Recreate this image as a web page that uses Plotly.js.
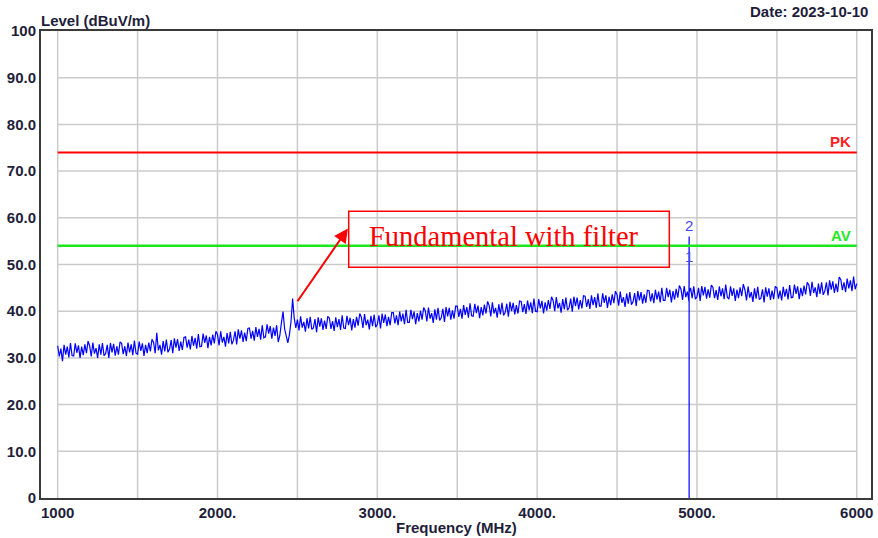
<!DOCTYPE html>
<html>
<head>
<meta charset="utf-8">
<script src="https://cdn.plot.ly/plotly-3.0.1.min.js"></script>
<style>
  html, body { margin: 0; padding: 0; background: #ffffff; }
  #chart { width: 878px; height: 538px; }
</style>
</head>
<body>
<div id="chart"></div>
<script>
// Radiated emission scan, 1 GHz - 6 GHz (sweep sampled every 10 MHz)
const startFreq = 1000;
const stepFreq = 10;
const level = [
  32.6, 30.3, 32.0, 29.3, 32.8, 30.7, 32.4, 30.1, 33.2, 30.5,
  30.4, 33.1, 31.1, 32.7, 30.0, 32.4, 30.6, 32.9, 31.0, 33.6,
  32.6, 30.3, 33.3, 30.9, 32.1, 30.0, 32.9, 30.7, 33.2, 30.5,
  30.9, 32.8, 30.0, 33.2, 31.2, 33.0, 30.5, 32.5, 30.7, 33.4,
  33.1, 30.8, 32.5, 30.4, 33.3, 31.2, 32.9, 30.6, 33.7, 31.0,
  30.8, 33.5, 31.5, 33.1, 30.4, 32.8, 31.0, 33.3, 31.4, 34.0,
  33.3, 31.0, 35.4, 31.6, 32.8, 30.7, 33.6, 31.4, 33.9, 31.2,
  31.9, 33.8, 31.0, 34.2, 32.2, 34.0, 31.5, 33.5, 31.7, 34.4,
  34.5, 32.2, 33.9, 31.8, 34.7, 32.6, 34.3, 32.0, 35.1, 32.4,
  32.5, 35.2, 33.2, 34.8, 32.1, 34.5, 32.7, 35.0, 33.1, 35.7,
  35.0, 32.7, 35.7, 33.3, 34.5, 32.4, 35.3, 33.1, 35.6, 32.9,
  33.8, 35.7, 32.9, 36.1, 34.1, 35.9, 33.4, 35.4, 33.6, 36.3,
  36.4, 34.1, 35.8, 33.7, 36.6, 34.5, 36.2, 33.9, 37.0, 34.3,
  34.5, 37.2, 35.2, 36.8, 34.1, 36.5, 34.7, 37.0, 33.4, 34.8,
  37.5, 39.9, 36.2, 34.5, 33.2, 35.0, 37.8, 42.7, 38.5, 36.4,
  38.2, 35.9, 38.9, 36.5, 37.7, 35.6, 38.5, 36.3, 38.8, 36.1,
  36.4, 38.3, 35.5, 38.7, 36.7, 38.5, 36.0, 38.0, 36.2, 38.9,
  38.5, 36.2, 37.9, 35.8, 38.7, 36.6, 38.3, 36.0, 39.1, 36.4,
  36.3, 39.0, 37.0, 38.6, 35.9, 38.3, 36.5, 38.8, 36.9, 39.5,
  38.7, 36.4, 39.4, 37.0, 38.2, 36.1, 39.0, 36.8, 39.3, 36.6,
  37.2, 39.1, 36.3, 39.5, 37.5, 39.3, 36.8, 38.8, 37.0, 39.7,
  39.7, 37.4, 39.1, 37.0, 39.9, 37.8, 39.5, 37.2, 40.3, 37.6,
  37.6, 40.3, 38.3, 39.9, 37.2, 39.6, 37.8, 40.1, 38.2, 40.8,
  40.1, 37.8, 40.8, 38.4, 39.6, 37.5, 40.4, 38.2, 40.7, 38.0,
  38.6, 40.5, 37.7, 40.9, 38.9, 40.7, 38.2, 40.2, 38.4, 41.1,
  41.1, 38.8, 40.5, 38.4, 41.3, 39.2, 40.9, 38.6, 41.7, 39.0,
  38.9, 41.6, 39.6, 41.2, 38.5, 40.9, 39.1, 41.4, 39.5, 42.1,
  41.2, 38.9, 41.9, 39.5, 40.7, 38.6, 41.5, 39.3, 41.8, 39.1,
  39.7, 41.6, 38.8, 42.0, 40.0, 41.8, 39.3, 41.3, 39.5, 42.2,
  42.1, 39.8, 41.5, 39.4, 42.3, 40.2, 41.9, 39.6, 42.7, 40.0,
  39.9, 42.6, 40.6, 42.2, 39.5, 41.9, 40.1, 42.4, 40.5, 43.1,
  42.3, 40.0, 43.0, 40.6, 41.8, 39.7, 42.6, 40.4, 42.9, 40.2,
  40.8, 42.7, 39.9, 43.1, 41.1, 42.9, 40.4, 42.4, 40.6, 43.3,
  43.2, 40.9, 42.6, 40.5, 43.4, 41.3, 43.0, 40.7, 43.8, 41.1,
  41.1, 43.8, 41.8, 43.4, 40.7, 43.1, 41.3, 43.6, 41.7, 44.3,
  43.5, 41.2, 44.2, 41.8, 43.0, 40.9, 43.8, 41.6, 44.1, 41.4,
  42.0, 43.9, 41.1, 44.3, 42.3, 44.1, 41.6, 43.6, 41.8, 44.5,
  44.4, 42.1, 43.8, 41.7, 44.6, 42.5, 44.2, 41.9, 45.0, 42.3,
  42.3, 45.0, 43.0, 44.6, 41.9, 44.3, 42.5, 44.8, 42.9, 45.5,
  44.7, 42.4, 45.4, 43.0, 44.2, 42.1, 45.0, 42.8, 45.3, 42.6,
  43.1, 45.0, 42.2, 45.4, 43.4, 45.2, 42.7, 44.7, 42.9, 45.6,
  45.1, 42.8, 44.5, 42.4, 45.3, 43.2, 44.9, 42.6, 45.7, 43.0,
  42.6, 45.3, 43.3, 44.9, 42.2, 44.6, 42.8, 45.1, 43.2, 45.8,
  44.6, 42.3, 45.3, 42.9, 44.1, 42.0, 44.9, 42.7, 45.2, 42.5,
  42.8, 44.7, 41.9, 45.1, 43.1, 44.9, 42.4, 44.4, 42.6, 45.3,
  45.0, 42.7, 44.4, 42.3, 45.2, 43.1, 44.8, 42.5, 45.6, 42.9,
  43.0, 45.7, 43.7, 45.3, 42.6, 45.0, 43.2, 45.5, 43.6, 46.2,
  45.6, 43.3, 46.3, 43.9, 45.1, 43.0, 45.9, 43.7, 46.2, 43.5,
  44.3, 46.2, 43.4, 46.6, 44.6, 46.4, 43.9, 45.9, 44.1, 47.3,
  46.8, 44.5, 46.2, 44.1, 47.0, 44.9, 46.6, 44.3, 47.4, 44.7,
  45.9
];

// Carrier spike captured at a single sweep position (peak, drop-out, recovery)
const spikeFreq = 4951;
const spikeLevels = [56.0, 0.0, 44.0];

// Marker readings
const markerNo = ['1', '2'];
const markerFreq = [4951, 4951];
const markerLevel = [49.4, 56.0];

// Limit lines
const limitFreq = [1000, 6000];
const limitPK = [74, 74];
const limitAV = [54, 54];

// Axis ticks
const xTickVals = [1000, 2000, 3000, 4000, 5000, 6000];
const xTickText = ['1000', '2000.', '3000.', '4000.', '5000.', '6000'];
const xGridVals = [1000, 1500, 2000, 2500, 3000, 3500, 4000, 4500, 5000, 5500, 6000];
const yTickVals = [0, 10, 20, 30, 40, 50, 60, 70, 80, 90, 100];
const yTickText = ['0', '10.0', '20.0', '30.0', '40.0', '50.0', '60.0', '70.0', '80.0', '90.0', '100'];
const yGridVals = [10, 20, 30, 40, 50, 60, 70, 80, 90];

// Build the sweep trace
const freq = [];
const lvl = [];
for (let i = 0; i < level.length; i++) {
  const f = startFreq + i * stepFreq;
  freq.push(f);
  lvl.push(level[i]);
  if (f < spikeFreq && f + stepFreq > spikeFreq) {
    spikeLevels.forEach(v => { freq.push(spikeFreq); lvl.push(v); });
  }
}

const labelFont = { family: 'Liberation Sans, Arial, sans-serif', size: 15, color: '#1e1e3a', weight: 'bold' };
const gridColor = '#cbcbcb';

const shapes = [];
xGridVals.forEach(v => shapes.push({
  type: 'line', xref: 'x', yref: 'y', x0: v, x1: v, y0: 0, y1: 100,
  line: { color: gridColor, width: 1.5 }, layer: 'below'
}));
yGridVals.forEach(v => shapes.push({
  type: 'line', xref: 'x', yref: 'y', x0: xGridVals[0], x1: xGridVals[xGridVals.length - 1], y0: v, y1: v,
  line: { color: gridColor, width: 1.5 }, layer: 'below'
}));
// Callout frame
shapes.push({
  type: 'rect', xref: 'x', yref: 'y', x0: 2821, x1: 4827, y0: 49.4, y1: 61.4,
  line: { color: '#ff0000', width: 1.5 }, fillcolor: 'rgba(0,0,0,0)', layer: 'above'
});

const traces = [
  {
    x: freq, y: lvl, type: 'scatter', mode: 'lines',
    line: { color: '#0000ff', width: 1.2 }, hoverinfo: 'skip'
  },
  {
    x: limitFreq, y: limitPK, type: 'scatter', mode: 'lines',
    line: { color: '#ff0000', width: 2 }, hoverinfo: 'skip'
  },
  {
    x: limitFreq, y: limitAV, type: 'scatter', mode: 'lines',
    line: { color: '#1ee61e', width: 2.5 }, hoverinfo: 'skip'
  }
];

const annotations = [
  {
    xref: 'paper', yref: 'paper', x: 0, y: 1, xanchor: 'left', yanchor: 'bottom',
    xshift: -2, yshift: 0, showarrow: false, text: 'Level (dBuV/m)', font: labelFont
  },
  {
    xref: 'paper', yref: 'paper', x: 1, y: 1, xanchor: 'right', yanchor: 'bottom',
    xshift: -1, yshift: 9, showarrow: false, text: 'Date: 2023-10-10', font: labelFont
  },
  {
    xref: 'paper', yref: 'paper', x: 0.5, y: 0, xanchor: 'center', yanchor: 'top',
    yshift: -19, showarrow: false, text: 'Frequency (MHz)', font: labelFont
  },
  {
    xref: 'x', yref: 'y', x: 5975, y: limitPK[0], xanchor: 'right', yanchor: 'bottom',
    yshift: 0, showarrow: false, text: 'PK',
    font: { family: 'Liberation Sans, Arial, sans-serif', size: 15, color: '#ff2020', weight: 'bold' }
  },
  {
    xref: 'x', yref: 'y', x: 5975, y: limitAV[0], xanchor: 'right', yanchor: 'bottom',
    yshift: 0, showarrow: false, text: 'AV',
    font: { family: 'Liberation Sans, Arial, sans-serif', size: 15, color: '#22e822', weight: 'bold' }
  },
  {
    xref: 'x', yref: 'y', x: 2935, y: 56.0, xanchor: 'left', yanchor: 'middle',
    showarrow: false, text: 'Fundamental with filter',
    font: { family: 'Liberation Serif, Times New Roman, serif', size: 28.5, color: '#ff0000' }
  },
  {
    xref: 'x', yref: 'y', axref: 'x', ayref: 'y',
    x: 2816, y: 57.7, ax: 2494, ay: 41.8, text: '', showarrow: true,
    arrowhead: 2, arrowsize: 1.4, arrowwidth: 2, arrowcolor: '#ff0000', standoff: 0
  }
];
markerNo.forEach((t, i) => annotations.push({
  xref: 'x', yref: 'y', x: markerFreq[i], y: markerLevel[i], xanchor: 'center', yanchor: 'bottom',
  yshift: 0, showarrow: false, text: t,
  font: { family: 'Liberation Sans, Arial, sans-serif', size: 15, color: '#4444ff' }
}));

const layout = {
  width: 878, height: 538,
  margin: { l: 41, r: 7, t: 31, b: 40, pad: 0 },
  paper_bgcolor: '#ffffff', plot_bgcolor: '#ffffff',
  showlegend: false,
  xaxis: {
    range: [895.6, 6089], tickmode: 'array', tickvals: xTickVals, ticktext: xTickText,
    showgrid: false, zeroline: false, showline: true, mirror: true,
    linecolor: '#3a3a3a', linewidth: 2, ticks: '', tickfont: labelFont
  },
  yaxis: {
    range: [0, 100], tickmode: 'array', tickvals: yTickVals, ticktext: yTickText,
    showgrid: false, zeroline: false, showline: true, mirror: true,
    linecolor: '#3a3a3a', linewidth: 2, ticks: '', tickfont: labelFont
  },
  shapes: shapes,
  annotations: annotations
};

Plotly.newPlot('chart', traces, layout, { staticPlot: true, displayModeBar: false });
</script>
</body>
</html>
